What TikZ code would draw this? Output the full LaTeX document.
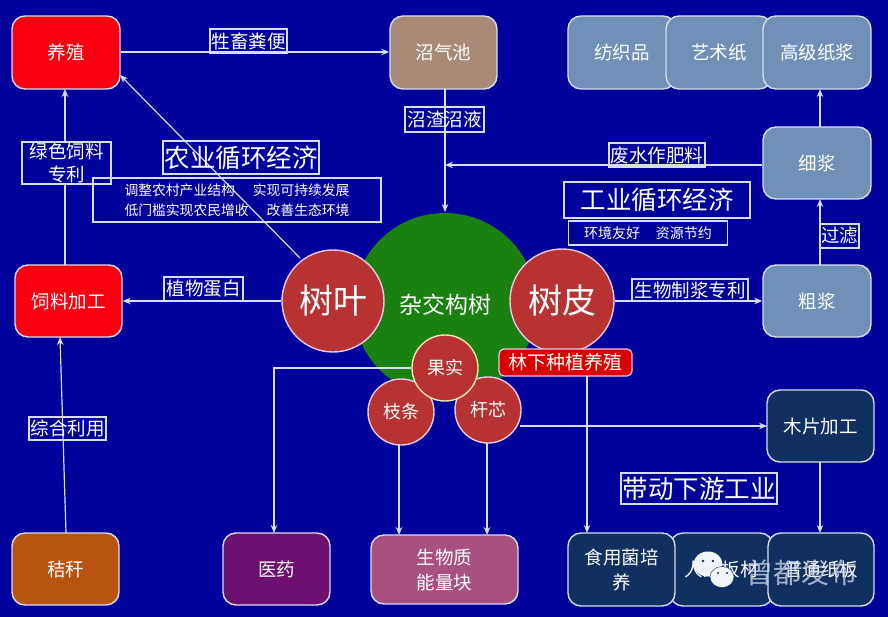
\documentclass[tikz,border=0pt]{standalone}
\usepackage{fontspec}
\setmainfont{Noto Sans CJK SC}
\usetikzlibrary{arrows.meta,shapes.geometric}
\definecolor{bgblue}{HTML}{00009A}
\definecolor{edgec}{HTML}{D8DCF0}
\definecolor{redbox}{HTML}{F80010}
\definecolor{tanbox}{HTML}{A98A78}
\definecolor{steel}{HTML}{7090B8}
\definecolor{navybox}{HTML}{0F3060}
\definecolor{ballred}{HTML}{B83232}
\definecolor{treegreen}{HTML}{1A8010}
\definecolor{strawc}{HTML}{B85410}
\definecolor{medc}{HTML}{6D0F70}
\definecolor{pinkc}{HTML}{A85080}
\definecolor{ringc}{HTML}{E8C8E8}
\definecolor{ringy}{HTML}{F0E8A8}
\tikzset{
  pbox/.style={draw=edgec,line width=1.4pt,rounded corners=13pt,text=white,align=center,font=\fontsize{18.5}{25}\selectfont,inner sep=0pt},
  lab/.style={draw=edgec,line width=1.2pt,text=white,align=center,inner sep=0pt,font=\fontsize{18.5}{23}\selectfont},
  ball/.style={circle,draw=#1,line width=1.4pt,fill=ballred,text=white,inner sep=0pt},
  conn/.style={draw=edgec,line width=1.2pt,-{Stealth[length=8pt,width=6.5pt]}}
}
\newcommand{\bx}[7]{\node[pbox,fill=#6,minimum width=#4pt-#2pt,minimum height=#5pt-#3pt] (#1) at ({(#2+#4)/2},{(#3+#5)/2}) {#7};}
\newcommand{\lb}[6]{\node[lab,minimum width=#4pt-#2pt,minimum height=#5pt-#3pt] (#1) at ({(#2+#4)/2},{(#3+#5)/2}) {#6};}
\begin{document}
\begin{tikzpicture}[x=1pt,y=-1pt]
\path[use as bounding box,fill=bgblue] (0,0) rectangle (888,617);
\bx{yang}{12}{16}{120}{89}{redbox}{养殖}
\bx{zhao}{390}{16}{497}{89}{tanbox}{沼气池}
\bx{fang}{568}{16}{676}{89}{steel}{纺织品}
\bx{yi}{666}{16}{772}{89}{steel}{艺术纸}
\bx{gao}{763}{16}{871}{89}{steel}{高级纸浆}
\bx{xi}{763}{127}{871}{199}{steel}{细浆}
\bx{cu}{763}{265}{871}{337}{steel}{粗浆}
\bx{si}{15}{265}{122}{337}{redbox}{饲料加工}
\bx{jie}{12}{533}{119}{605}{strawc}{秸秆}
\bx{yiy}{223}{533}{330}{605}{medc}{医药}
\bx{sw}{371}{535}{518}{604}{pinkc}{生物质\\能量块}
\bx{mu}{767}{390}{874}{462}{navybox}{木片加工}
\bx{zao}{670}{533}{773}{606}{navybox}{人造板材}
\bx{pu}{768}{533}{874}{606}{navybox}{普通纸板}
\bx{shi}{568}{533}{675}{606}{navybox}{食用菌培\\养}
% tree
\node[circle,fill=treegreen,minimum size=184pt,inner sep=0pt] (tree) at (445,305) {};
\node[text=white,font=\fontsize{23}{27}\selectfont] (treet) at (445,305) {杂交构树};
\node[ball=ringc,minimum size=102pt,font=\fontsize{34}{38}\selectfont] (ye) at (333,301) {树叶};
\node[ball=ringc,minimum size=104pt,font=\fontsize{34}{38}\selectfont] (pi) at (562,301) {树皮};
\node[ball=ringc,minimum size=66pt,font=\fontsize{18}{22}\selectfont] (zhi) at (401,412) {枝条};
\node[ball=ringc,minimum size=66pt,font=\fontsize{18}{22}\selectfont] (gan) at (488,410) {杆芯};
\node[ball=ringy,minimum size=66pt,font=\fontsize{18}{22}\selectfont] (guo) at (445,368) {果实};
\node[draw=ringc,line width=1.2pt,fill=red!85!black,rounded corners=5pt,text=white,minimum width=133pt,minimum height=27pt,inner sep=0pt,font=\fontsize{19}{22}\selectfont] (lin) at (565.5,362.5) {林下种植养殖};
% free ends
\coordinate (c1) at (274,368);
\coordinate (c2) at (274,533);
\coordinate (t1) at (445,165);
\coordinate (a1) at (445,89);
\coordinate (a2) at (445,212);
% connectors
\draw[conn] (yang.east |- 0,52) -- (zhao.west |- 0,52);
\draw[conn] (a1) -- (a2);
\draw[conn] (xi.west |- 0,165) -- (t1);
\draw[conn] (820,127) -- (820,89);
\draw[conn] (820,265) -- (820,199);
\draw[conn] (pi.east) -- (cu.west);
\draw[conn] (ye.west) -- (si.east |- 0,301);
\draw[conn] (300,258) -- (120,75);
\draw[conn] (65,265) -- (65,89);
\draw[conn] (66,533) -- (60,337);
\draw[conn] (guo.west) -- (c1) -- (c2);
\draw[conn] (399,445) -- (399,535);
\draw[conn] (487,443) -- (487,535);
\draw[conn] (520,426) -- (767,426);
\draw[conn] (587,376) -- (587,533);
\draw[conn] (820,462) -- (820,533);
% labels
\lb{l1}{210}{29}{287}{53}{牲畜粪便}
\lb{l2}{405}{107}{484}{132}{沼渣沼液}
\lb{l3}{609}{143}{705}{167}{废水作肥料}
\lb{l4}{820}{224}{859}{248}{过滤}
\lb{l5}{632}{279}{748}{301}{生物制浆专利}
\lb{l6}{164}{277}{243}{301}{植物蛋白}
\node[lab,fill=bgblue,minimum width=89pt,minimum height=42pt] (l7) at (66.5,163) {绿色饲料\\专利};
\lb{l8}{29}{417}{106}{440}{综合利用}
\node[lab,minimum width=288pt,minimum height=44pt,font=\fontsize{13.8}{20.5}\selectfont] (sub1) at (237,200) {调整农村产业结构\hspace{18pt}实现可持续发展\\低门槛实现农民增收\hspace{18pt}改善生态环境};
\node[lab,minimum width=156pt,minimum height=33pt,font=\fontsize{25.5}{29}\selectfont] (t1l) at (241,157.5) {农业循环经济};
\node[lab,minimum width=186pt,minimum height=36pt,font=\fontsize{25.5}{29}\selectfont] (t2l) at (657,200) {工业循环经济};
\node[lab,minimum width=159pt,minimum height=24pt,font=\fontsize{14}{17}\selectfont] (sub2) at (648,233) {环境友好\hspace{16pt}资源节约};
\node[draw=none,minimum width=0pt] (sub2a) at (735,233) {};
\draw[edgec,line width=1.2pt] (sub2.north east) -- (sub2.north east);
\node[lab,minimum width=156pt,minimum height=31pt,font=\fontsize{25.5}{29}\selectfont] (t3l) at (699,488.5) {带动下游工业};
% watermark
\node[ellipse,fill=white!90!steel,minimum width=29pt,minimum height=25pt,inner sep=0pt] (w1) at (708,564) {};
\node[ellipse,fill=white!90!steel,draw=navybox,minimum width=24pt,minimum height=21pt,inner sep=0pt] (w2) at (722,577) {};
\fill[navybox] (703,561) circle (1.3) (713,561) circle (1.3) (718,573) circle (1.1) (727,573) circle (1.1);
\node[text=edgec,opacity=.75,font=\fontsize{28}{30}\selectfont] (wm) at (801,573) {曾都发布};
\end{tikzpicture}
\end{document}
